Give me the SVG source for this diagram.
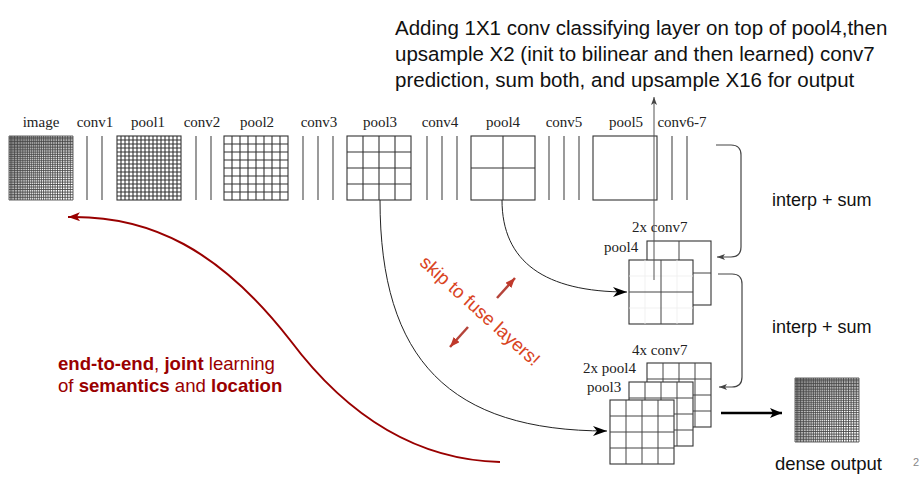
<svg xmlns="http://www.w3.org/2000/svg" width="921" height="480" viewBox="0 0 921 480">
<style>
.lbl{font-family:"Liberation Serif","DejaVu Serif",serif;font-size:15px;fill:#222}
.sans{font-family:"Liberation Sans",Arial,sans-serif;fill:#111}
.box{fill:#fff;stroke:#333;stroke-width:1.1}
.gl{fill:none;stroke:#333;stroke-width:1.1}
.sg{fill:none;stroke:#444;stroke-width:1}
.faint{fill:none;stroke:#eee;stroke-width:0.8}
.conv{stroke:#666;stroke-width:1.3}
.red{font-family:"Liberation Sans",Arial,sans-serif;font-size:18.6px;fill:#990000}
.dense{fill:none;stroke:#444;stroke-width:0.85}
.curve{fill:none;stroke:#222;stroke-width:1}
.loop{fill:none;stroke:#444;stroke-width:1.2}
</style>
<defs>
<marker id="stealth" viewBox="0 0 14 10" refX="14" refY="5" markerWidth="14" markerHeight="10" markerUnits="userSpaceOnUse" orient="auto"><path d="M0,0 L14,5 L0,10 L4,5 Z" fill="#000"/></marker>
<marker id="small" viewBox="0 0 8 6" refX="8" refY="3" markerWidth="8" markerHeight="6" markerUnits="userSpaceOnUse" orient="auto"><path d="M0,0 L8,3 L0,6 L2,3 Z" fill="#444"/></marker>
<marker id="redhead" viewBox="0 0 10 8" refX="10" refY="4" markerWidth="10" markerHeight="8" markerUnits="userSpaceOnUse" orient="auto"><path d="M0,0 L10,4 L0,8 Z" fill="#c0392b"/></marker>
<marker id="darkred" viewBox="0 0 12 9" refX="12" refY="4.5" markerWidth="12" markerHeight="9" markerUnits="userSpaceOnUse" orient="auto"><path d="M0,0 L12,4.5 L0,9 L3,4.5 Z" fill="#990000"/></marker>
<marker id="thick" viewBox="0 0 12 10" refX="12" refY="5" markerWidth="12" markerHeight="10" markerUnits="userSpaceOnUse" orient="auto"><path d="M0,0 L12,5 L0,10 L3,5 Z" fill="#000"/></marker>
<g id="densegrid" class="dense">
<path d="M0,0V64M1.3,0V64M2.7,0V64M4,0V64M5.5,0V64M7,0V64M8.5,0V64M10.1,0V64M11.7,0V64M13.3,0V64M15,0V64M16.8,0V64M18.6,0V64M20.4,0V64M22.3,0V64M24.3,0V64M26.2,0V64M28.3,0V64M30.3,0V64M32.4,0V64M34.6,0V64M36.8,0V64M39,0V64M41.3,0V64M43.7,0V64M46.1,0V64M48.5,0V64M51,0V64M53.5,0V64M56.1,0V64M58.7,0V64M61.3,0V64M64,0V64"/>
<path d="M0,0H64M0,1.3H64M0,2.7H64M0,4H64M0,5.5H64M0,7H64M0,8.5H64M0,10.1H64M0,11.7H64M0,13.3H64M0,15H64M0,16.8H64M0,18.6H64M0,20.4H64M0,22.3H64M0,24.3H64M0,26.2H64M0,28.3H64M0,30.3H64M0,32.4H64M0,34.6H64M0,36.8H64M0,39H64M0,41.3H64M0,43.7H64M0,46.1H64M0,48.5H64M0,51H64M0,53.5H64M0,56.1H64M0,58.7H64M0,61.3H64M0,64H64"/>
</g>
<path id="g4x4" d="M16,0V64M32,0V64M48,0V64M0,16H64M0,32H64M0,48H64"/>
</defs>

<g id="caption">
<text class="sans" font-size="20.5" x="395" y="35">Adding 1X1 conv classifying layer on top of pool4,then</text>
<text class="sans" font-size="20.5" x="395" y="61">upsample X2 (init to bilinear and then learned) conv7</text>
<text class="sans" font-size="20.5" x="395" y="87">prediction, sum both, and upsample X16 for output</text>
</g>

<g id="image">
<text class="lbl" x="41" y="127" text-anchor="middle">image</text>
<use href="#densegrid" x="9" y="136"/>
</g>
<g id="conv1">
<text class="lbl" x="95" y="127" text-anchor="middle">conv1</text>
<path class="conv" d="M87,136V200M102,136V200"/>
</g>
<g id="pool1">
<text class="lbl" x="148" y="127" text-anchor="middle">pool1</text>
<rect class="box" x="117" y="136" width="64" height="64"/>
<path class="gl" stroke-width="0.9" d="M121,136V200M125,136V200M129,136V200M133,136V200M137,136V200M141,136V200M145,136V200M149,136V200M153,136V200M157,136V200M161,136V200M165,136V200M169,136V200M173,136V200M177,136V200M117,140H181M117,144H181M117,148H181M117,152H181M117,156H181M117,160H181M117,164H181M117,168H181M117,172H181M117,176H181M117,180H181M117,184H181M117,188H181M117,192H181M117,196H181"/>
</g>
<g id="conv2">
<text class="lbl" x="202" y="127" text-anchor="middle">conv2</text>
<path class="conv" d="M196,136V200M211,136V200"/>
</g>
<g id="pool2">
<text class="lbl" x="257" y="127" text-anchor="middle">pool2</text>
<rect class="box" x="224" y="136" width="64" height="64"/>
<path class="gl" d="M232,136V200M240,136V200M248,136V200M256,136V200M264,136V200M272,136V200M280,136V200M224,144H288M224,152H288M224,160H288M224,168H288M224,176H288M224,184H288M224,192H288"/>
</g>
<g id="conv3">
<text class="lbl" x="319" y="127" text-anchor="middle">conv3</text>
<path class="conv" d="M303,136V200M318,136V200M333,136V200"/>
</g>
<g id="pool3">
<text class="lbl" x="380" y="127" text-anchor="middle">pool3</text>
<rect class="box" x="347" y="136" width="64" height="64"/>
<use href="#g4x4" x="347" y="136" class="gl"/>
</g>
<g id="conv4">
<text class="lbl" x="440" y="127" text-anchor="middle">conv4</text>
<path class="conv" d="M427,136V200M442,136V200M457,136V200"/>
</g>
<g id="pool4">
<text class="lbl" x="503" y="127" text-anchor="middle">pool4</text>
<rect class="box" x="471" y="136" width="64" height="64"/>
<path class="gl" d="M503,136V200M471,168H535"/>
</g>
<g id="conv5">
<text class="lbl" x="564" y="127" text-anchor="middle">conv5</text>
<path class="conv" d="M549,136V200M564,136V200M579,136V200"/>
</g>
<g id="pool5">
<text class="lbl" x="626" y="127" text-anchor="middle">pool5</text>
<rect class="box" x="593" y="136" width="64" height="64"/>
</g>
<g id="conv6-7">
<text class="lbl" x="682" y="127" text-anchor="middle">conv6-7</text>
<path class="conv" d="M672,136V200M687,136V200"/>
</g>

<g id="fuse1">
<text class="lbl" x="632" y="232">2x conv7</text>
<text class="lbl" x="604" y="252">pool4</text>
<rect class="box" x="647" y="241" width="64" height="64" stroke="#444"/>
<path class="sg" d="M679,241V305M647,273H711"/>
<rect class="box" x="629" y="260" width="64" height="64" stroke="#444"/>
<path class="faint" d="M645,260V324M677,260V324M629,276H693M629,308H693"/>
<path class="sg" d="M661,260V324M629,292H693"/>
</g>

<g id="fuse2">
<text class="lbl" x="632" y="355">4x conv7</text>
<text class="lbl" x="583" y="373">2x pool4</text>
<text class="lbl" x="587" y="392">pool3</text>
<rect class="box" x="647" y="363" width="64" height="64" stroke="#444"/>
<use href="#g4x4" x="647" y="363" class="sg"/>
<rect class="box" x="629" y="382" width="64" height="64" stroke="#444"/>
<use href="#g4x4" x="629" y="382" class="sg"/>
<rect class="box" x="610" y="400" width="64" height="64" stroke="#444"/>
<use href="#g4x4" x="610" y="400" class="sg"/>
</g>

<g id="dense-output">
<use href="#densegrid" x="795" y="378"/>
<text class="sans" font-size="18.5" x="775" y="470">dense output</text>
</g>

<g id="labels">
<text class="sans" font-size="18" x="772" y="206">interp + sum</text>
<text class="sans" font-size="18" x="772" y="333">interp + sum</text>
<text class="red" x="58" y="370"><tspan font-weight="bold">end-to-end</tspan>, <tspan font-weight="bold">joint</tspan> learning</text>
<text class="red" x="58" y="392">of <tspan font-weight="bold">semantics</tspan> and <tspan font-weight="bold">location</tspan></text>
<text transform="translate(480,311) rotate(42)" text-anchor="middle" y="6" font-family="Liberation Sans, Arial, sans-serif" font-size="18.6" fill="#d9441f">skip to fuse layers!</text>
<text x="913" y="466" font-family="Liberation Sans, Arial, sans-serif" font-size="11" fill="#888">2</text>
</g>

<g id="connectors">
<path class="curve" d="M502,200 C502,262 545,292 627,292" marker-end="url(#stealth)"/>
<path class="curve" d="M380,200 C380,360 450,431 607,431" marker-end="url(#stealth)"/>
<path class="loop" d="M716,145 H731 Q741,145 741,155 V247 Q741,257 731,257 H717" marker-end="url(#small)"/>
<path class="loop" d="M718,274 H732 Q742,274 742,284 V377 Q742,387 732,387 H719" marker-end="url(#small)"/>
<path fill="none" stroke="#555" stroke-width="1" d="M654,280 V97" marker-end="url(#small)"/>
<path fill="none" stroke="#000" stroke-width="2.5" d="M721,413 H782" marker-end="url(#thick)"/>
<path fill="none" stroke="#990000" stroke-width="2" d="M500,462 C420,460 350,420 290,340 C220,250 150,215 68,217" marker-end="url(#darkred)"/>
<path fill="none" stroke="#b5443a" stroke-width="2.5" d="M497,298 L515,278" marker-end="url(#redhead)"/>
<path fill="none" stroke="#b5443a" stroke-width="2.5" d="M468,327 L450,347" marker-end="url(#redhead)"/>
</g>
</svg>
